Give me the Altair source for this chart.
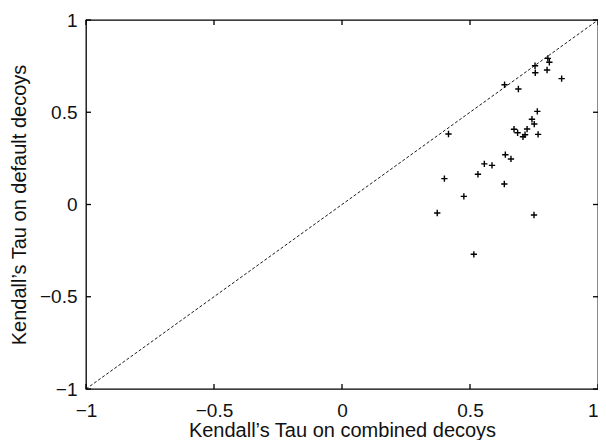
import altair as alt
import pandas as pd

combined = [0.804, 0.810, 0.754, 0.755, 0.801, 0.858, 0.635, 0.689, 0.763, 0.742,
            0.751, 0.723, 0.672, 0.686, 0.707, 0.715, 0.766, 0.416, 0.638, 0.660,
            0.556, 0.586, 0.531, 0.400, 0.634, 0.476, 0.372, 0.750, 0.515]
default = [0.792, 0.771, 0.752, 0.714, 0.729, 0.682, 0.649, 0.626, 0.505, 0.462,
           0.436, 0.409, 0.408, 0.389, 0.367, 0.378, 0.380, 0.382, 0.270, 0.247,
           0.220, 0.212, 0.164, 0.140, 0.111, 0.044, -0.046, -0.057, -0.270]
diag = [-1, 1]
ticks = [-1, -0.5, 0, 0.5, 1]

W, H = 512, 369
TL = 5
FONT = "Liberation Sans"
FS = 19
TFS = 20

pts = pd.DataFrame({"x": combined, "y": default})
dg = pd.DataFrame({"x": diag, "y": diag})
tk = pd.DataFrame({"x": ticks, "y": ticks})

xs = alt.Scale(domain=[-1, 1], nice=False)
ys = alt.Scale(domain=[-1, 1], nice=False)

lab = "replace(format(datum.value, '~g'), '-', '\u2212')"

xaxis = alt.Axis(orient="bottom", values=ticks, grid=False, domain=False,
                 ticks=False, tickSize=0, labelFont=FONT, labelFontSize=FS,
                 labelColor="#111111", labelPadding=12, labelFlush=False,
                 labelAlign={"condition": {"test": "datum.value >= 1", "value": "right"},
                             "value": "center"},
                 labelExpr=lab,
                 title="Kendall’s Tau on combined decoys",
                 titleFont=FONT, titleFontSize=TFS, titleFontWeight="normal",
                 titleColor="#111111", titlePadding=0)
yaxis = alt.Axis(orient="left", values=ticks, grid=False, domain=False,
                 ticks=False, tickSize=0, labelFont=FONT, labelFontSize=FS,
                 labelColor="#111111", labelPadding=9, labelFlush=False,
                 labelExpr=lab,
                 title="Kendall’s Tau on default decoys",
                 titleFont=FONT, titleFontSize=TFS, titleFontWeight="normal",
                 titleColor="#111111", titlePadding=10)

X = alt.X("x:Q", scale=xs, axis=xaxis)
Y = alt.Y("y:Q", scale=ys, axis=yaxis)

plus = "M-1,0L1,0M0,-1L0,1"

points = alt.Chart(pts).mark_point(shape=plus, size=40, filled=False, color="black",
                                   strokeWidth=1.4, opacity=1).encode(x=X, y=Y)

line = alt.Chart(dg).mark_line(color="black", strokeWidth=0.9, strokeDash=[3, 2]).encode(x=X, y=Y)

tick_style = dict(color="black", strokeWidth=1.3)
t_bottom = alt.Chart(tk).mark_rule(**tick_style).encode(x=X, y=alt.value(H), y2=alt.value(H - TL))
t_top = alt.Chart(tk).mark_rule(**tick_style).encode(x=X, y=alt.value(0), y2=alt.value(TL))
t_left = alt.Chart(tk).mark_rule(**tick_style).encode(y=Y, x=alt.value(0), x2=alt.value(TL))
t_right = alt.Chart(tk).mark_rule(**tick_style).encode(y=Y, x=alt.value(W), x2=alt.value(W - TL))

chart = alt.layer(points, line, t_bottom, t_top, t_left, t_right).properties(
    width=W, height=H,
    autosize=alt.AutoSizeParams(type="none"),
    padding={"left": 78, "top": 12, "right": 0, "bottom": 51},
    background="white",
).configure_view(stroke="black", strokeWidth=1.3)

chart.save("out.html", embed_options={"renderer": "svg", "actions": False})
